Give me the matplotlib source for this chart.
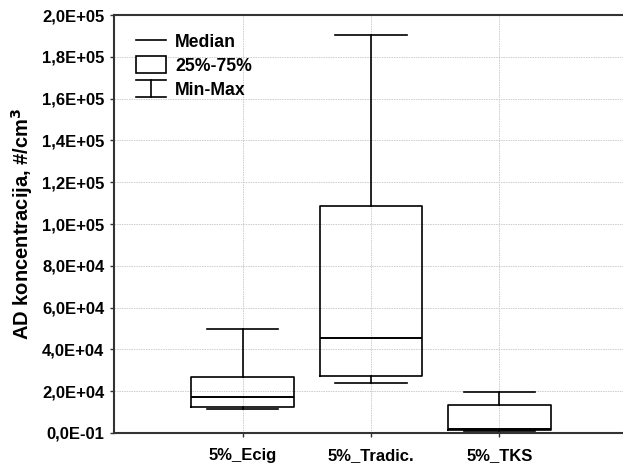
import matplotlib.pyplot as plt
from matplotlib.lines import Line2D
from matplotlib.patches import Rectangle
from matplotlib.legend_handler import HandlerBase

# box statistics (particles / cm3)
groups = ['5%_Ecig', '5%_Tradic.', '5%_TKS']
mins = [11500, 24000, 800]
q1s = [12500, 27500, 1200]
medians = [17000, 45500, 1800]
q3s = [27000, 108500, 13500]
maxs = [50000, 190500, 19500]

y_ticks = [0, 20000, 40000, 60000, 80000, 100000, 120000, 140000, 160000, 180000, 200000]
y_labels = ['0,0E-01', '2,0E+04', '4,0E+04', '6,0E+04', '8,0E+04', '1,0E+05',
            '1,2E+05', '1,4E+05', '1,6E+05', '1,8E+05', '2,0E+05']

plt.rcParams['font.family'] = ['Liberation Sans', 'DejaVu Sans']
plt.rcParams['font.weight'] = 'bold'


class HandlerMinMax(HandlerBase):
    # I-beam symbol for the whisker range
    def create_artists(self, legend, orig_handle, xdescent, ydescent,
                       width, height, fontsize, trans):
        x0, x1 = -xdescent, -xdescent + width
        xm = (x0 + x1) / 2
        y0, y1 = -ydescent, -ydescent + height
        kw = dict(color='black', lw=1.2, transform=trans)
        return [Line2D([x0, x1], [y1, y1], **kw),
                Line2D([x0, x1], [y0, y0], **kw),
                Line2D([xm, xm], [y0, y1], **kw)]


fig = plt.figure(figsize=(6.23, 4.68), dpi=100)
ax = fig.add_axes([0.183, 0.0748, 0.825, 0.893])

stats = []
for i in range(len(groups)):
    stats.append({'label': groups[i], 'whislo': mins[i], 'q1': q1s[i],
                  'med': medians[i], 'q3': q3s[i], 'whishi': maxs[i], 'fliers': []})

line_kw = dict(color='black', linewidth=1.2)
ax.bxp(stats, positions=[1, 2, 3], widths=0.8, capwidths=0.56, showfliers=False,
       boxprops=line_kw, whiskerprops=line_kw, capprops=line_kw,
       medianprops=dict(color='black', linewidth=1.4), zorder=3)

ax.set_xlim(0, 4)
ax.set_ylim(0, 200000)
ax.set_yticks(y_ticks)
ax.set_yticklabels(y_labels)
ax.tick_params(axis='y', labelsize=12, length=3, width=1, color='#333333', pad=4)
ax.tick_params(axis='x', labelsize=12, length=3, width=1, color='#333333', pad=8)

ax.grid(True, color='#cccccc', linestyle=(0, (1.5, 1)), linewidth=0.7)
ax.set_axisbelow(True)
for side in ['left', 'bottom', 'top']:
    ax.spines[side].set_linewidth(1.5)
    ax.spines[side].set_color('#333333')
ax.spines['right'].set_visible(False)

ax.set_ylabel('AD koncentracija, #/cm$^\\mathbf{3}$', fontsize=14.5, fontweight='bold', labelpad=5)

# legend with custom symbols
med_handle = Line2D([], [], color='black', lw=1.2)
box_handle = Rectangle((0, 0), 1, 1, facecolor='white', edgecolor='black', lw=1.2)
mm_handle = Line2D([], [], color='black')
ax.legend([med_handle, box_handle, mm_handle], ['Median', '25%-75%', 'Min-Max'],
          handler_map={mm_handle: HandlerMinMax()},
          loc='upper left', bbox_to_anchor=(0.043, 0.958), borderpad=0, borderaxespad=0,
          frameon=False, handlelength=1.7, handleheight=1.1,
          labelspacing=0.3, handletextpad=0.5,
          prop={'weight': 'bold', 'size': 12.7})

fig.savefig('out.png', dpi=100)
